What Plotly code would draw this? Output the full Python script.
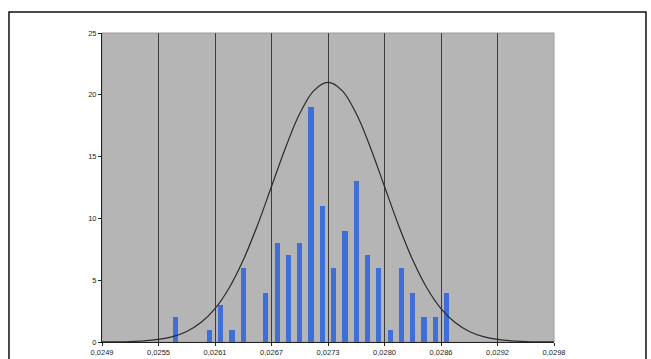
import plotly.graph_objects as go

# Histogram bin centres (x values) and counts
bin_centers = [0.025696, 0.026064, 0.026186, 0.026309, 0.026431, 0.026676,
               0.026799, 0.026921, 0.027044, 0.027166, 0.027289, 0.027411,
               0.027534, 0.027656, 0.027779, 0.027901, 0.028024, 0.028146,
               0.028269, 0.028391, 0.028514, 0.028636]
counts = [2, 1, 3, 1, 6, 4, 8, 7, 8, 19, 11, 6, 9, 13, 7, 6, 1, 6, 4, 2, 2, 4]

# Fitted normal curve
curve_x = [0.0249, 0.02505313, 0.02520625, 0.02535938, 0.0255125, 0.02566563,
           0.02581875, 0.02597188, 0.026125, 0.02627813, 0.02643125, 0.02658438,
           0.0267375, 0.02689063, 0.02704375, 0.02719688, 0.02735, 0.02750313,
           0.02765625, 0.02780938, 0.0279625, 0.02811563, 0.02826875, 0.02842188,
           0.028575, 0.02872813, 0.02888125, 0.02903438, 0.0291875, 0.02934063,
           0.02949375, 0.02964688, 0.0298]
curve_y = [0.006, 0.016, 0.040, 0.094, 0.209, 0.436, 0.853, 1.57, 2.70, 4.37,
           6.63, 9.43, 12.58, 15.74, 18.48, 20.34, 21.00, 20.34, 18.48, 15.74,
           12.58, 9.43, 6.63, 4.37, 2.70, 1.57, 0.853, 0.436, 0.209, 0.094,
           0.040, 0.016, 0.006]

# Axis ticks
x_tick_vals = [0.0249, 0.0255125, 0.026125, 0.0267375, 0.02735, 0.0279625,
               0.028575, 0.0291875, 0.0298]
x_tick_text = ["0,0249", "0,0255", "0,0261", "0,0267", "0,0273", "0,0280",
               "0,0286", "0,0292", "0,0298"]
y_tick_vals = [0, 5, 10, 15, 20, 25]

fig = go.Figure()
fig.add_trace(go.Bar(x=bin_centers, y=counts, width=0.000055,
                     marker=dict(color="#3f6fd6", line=dict(width=0)),
                     showlegend=False, hoverinfo="x+y"))
fig.add_trace(go.Scatter(x=curve_x, y=curve_y, mode="lines",
                         line=dict(color="#2a2a2a", width=1.2, shape="spline"),
                         showlegend=False))

fig.update_layout(
    width=651, height=359,
    margin=dict(l=102, r=97, t=33, b=17, autoexpand=False),
    paper_bgcolor="white", plot_bgcolor="#b5b5b5",
    font=dict(family="Liberation Sans, Arial, sans-serif", size=7.5, color="#222"),
    bargap=0,
    xaxis=dict(range=[0.0249, 0.0298], tickvals=x_tick_vals, ticktext=x_tick_text,
               showgrid=True, gridcolor="#3c3c3c", gridwidth=1,
               showline=True, linecolor="#222", linewidth=1,
               ticks="outside", ticklen=3, tickcolor="#222", zeroline=False,
               automargin=False, fixedrange=True),
    yaxis=dict(range=[0, 25], tickvals=y_tick_vals, showgrid=False,
               showline=True, linecolor="#222", linewidth=1,
               ticks="outside", ticklen=3, tickcolor="#222", zeroline=False,
               automargin=False, fixedrange=True),
    shapes=[
        dict(type="rect", xref="paper", yref="paper", x0=0, x1=1, y0=0, y1=1,
             line=dict(color="#9c9c9c", width=1), layer="below"),
        dict(type="rect", xref="paper", yref="paper", x0=-0.2058, x1=1.2035,
             y0=-0.2, y1=1.068, line=dict(color="#111", width=1.5),
             fillcolor="rgba(0,0,0,0)", layer="above"),
    ],
)

fig.write_html("out.html")
